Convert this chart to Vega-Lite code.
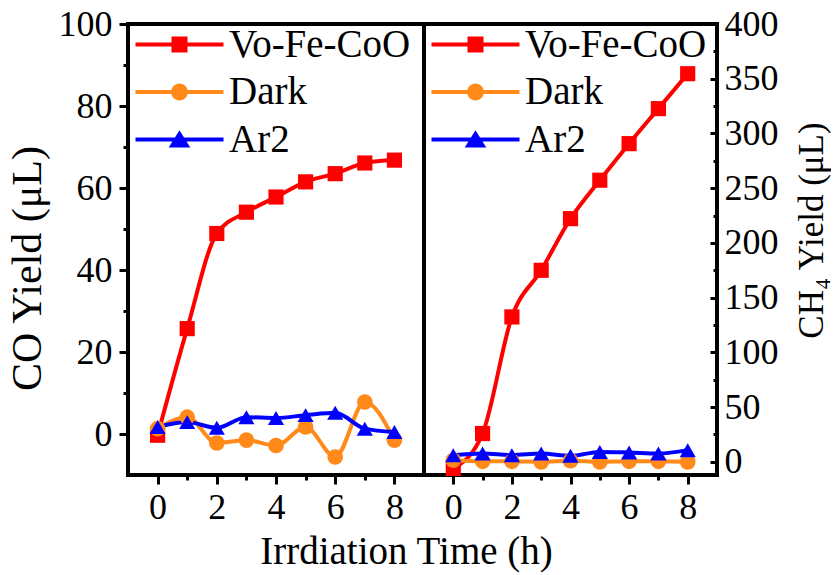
{
  "$schema": "https://vega.github.io/schema/vega-lite/v6.json",
  "background": "white",
  "padding": {"left": 4, "top": 4, "right": 0, "bottom": 5},
  "datasets": {
    "d": [
      {"panel": "CO", "series": "Vo-Fe-CoO", "t": 0, "v": -0.3},
      {"panel": "CO", "series": "Vo-Fe-CoO", "t": 1, "v": 25.7},
      {"panel": "CO", "series": "Vo-Fe-CoO", "t": 2, "v": 48.9},
      {"panel": "CO", "series": "Vo-Fe-CoO", "t": 3, "v": 54.1},
      {"panel": "CO", "series": "Vo-Fe-CoO", "t": 4, "v": 57.8},
      {"panel": "CO", "series": "Vo-Fe-CoO", "t": 5, "v": 61.5},
      {"panel": "CO", "series": "Vo-Fe-CoO", "t": 6, "v": 63.5},
      {"panel": "CO", "series": "Vo-Fe-CoO", "t": 7, "v": 66.1},
      {"panel": "CO", "series": "Vo-Fe-CoO", "t": 8, "v": 66.8},
      {"panel": "CO", "series": "Dark", "t": 0, "v": 1.3},
      {"panel": "CO", "series": "Dark", "t": 1, "v": 4.1},
      {"panel": "CO", "series": "Dark", "t": 2, "v": -2.2},
      {"panel": "CO", "series": "Dark", "t": 3, "v": -1.5},
      {"panel": "CO", "series": "Dark", "t": 4, "v": -2.8},
      {"panel": "CO", "series": "Dark", "t": 5, "v": 1.7},
      {"panel": "CO", "series": "Dark", "t": 6, "v": -5.6},
      {"panel": "CO", "series": "Dark", "t": 7, "v": 7.8},
      {"panel": "CO", "series": "Dark", "t": 8, "v": -1.5},
      {"panel": "CO", "series": "Ar2", "t": 0, "v": 1.7},
      {"panel": "CO", "series": "Ar2", "t": 1, "v": 2.9},
      {"panel": "CO", "series": "Ar2", "t": 2, "v": 1.5},
      {"panel": "CO", "series": "Ar2", "t": 3, "v": 4.1},
      {"panel": "CO", "series": "Ar2", "t": 4, "v": 3.9},
      {"panel": "CO", "series": "Ar2", "t": 5, "v": 4.6},
      {"panel": "CO", "series": "Ar2", "t": 6, "v": 5.2},
      {"panel": "CO", "series": "Ar2", "t": 7, "v": 1.3},
      {"panel": "CO", "series": "Ar2", "t": 8, "v": 0.5},
      {"panel": "CH4", "series": "Vo-Fe-CoO", "t": 0, "v": -6},
      {"panel": "CH4", "series": "Vo-Fe-CoO", "t": 1, "v": 25.9},
      {"panel": "CH4", "series": "Vo-Fe-CoO", "t": 2, "v": 132.4},
      {"panel": "CH4", "series": "Vo-Fe-CoO", "t": 3, "v": 175},
      {"panel": "CH4", "series": "Vo-Fe-CoO", "t": 4, "v": 222.2},
      {"panel": "CH4", "series": "Vo-Fe-CoO", "t": 5, "v": 257.3},
      {"panel": "CH4", "series": "Vo-Fe-CoO", "t": 6, "v": 290.7},
      {"panel": "CH4", "series": "Vo-Fe-CoO", "t": 7, "v": 322.7},
      {"panel": "CH4", "series": "Vo-Fe-CoO", "t": 8, "v": 354.6},
      {"panel": "CH4", "series": "Dark", "t": 0, "v": 1.5},
      {"panel": "CH4", "series": "Dark", "t": 1, "v": 0.5},
      {"panel": "CH4", "series": "Dark", "t": 2, "v": 0.5},
      {"panel": "CH4", "series": "Dark", "t": 3, "v": 0},
      {"panel": "CH4", "series": "Dark", "t": 4, "v": 1},
      {"panel": "CH4", "series": "Dark", "t": 5, "v": 0},
      {"panel": "CH4", "series": "Dark", "t": 6, "v": 0.5},
      {"panel": "CH4", "series": "Dark", "t": 7, "v": 0.5},
      {"panel": "CH4", "series": "Dark", "t": 8, "v": 0},
      {"panel": "CH4", "series": "Ar2", "t": 0, "v": 6.1},
      {"panel": "CH4", "series": "Ar2", "t": 1, "v": 7.6},
      {"panel": "CH4", "series": "Ar2", "t": 2, "v": 6.1},
      {"panel": "CH4", "series": "Ar2", "t": 3, "v": 7.6},
      {"panel": "CH4", "series": "Ar2", "t": 4, "v": 5.5},
      {"panel": "CH4", "series": "Ar2", "t": 5, "v": 9.1},
      {"panel": "CH4", "series": "Ar2", "t": 6, "v": 8.5},
      {"panel": "CH4", "series": "Ar2", "t": 7, "v": 7.6},
      {"panel": "CH4", "series": "Ar2", "t": 8, "v": 10.7}
    ]
  },
  "config": {
    "font": "Liberation Serif",
    "view": {"stroke": "black", "strokeWidth": 4},
    "axis": {
      "grid": false, "domain": false, "tickColor": "black", "tickWidth": 3,
      "labelColor": "black", "titleColor": "black",
      "labelFont": "Liberation Serif", "titleFont": "Liberation Serif",
      "labelFontSize": 36, "titleFontSize": 40, "titleFontWeight": "normal"
    }
  },
  "spacing": 0,
  "bounds": "flush",
  "resolve": {"legend": {"color": "independent"}},
  "hconcat": [
    {
      "width": 296, "height": 451,
      "data": {"name": "d"},
      "transform": [{"filter": "datum.panel === 'CO'"}],
      "layer": [
        {
          "encoding": {
            "x": {"field": "t", "type": "quantitative",
              "scale": {"domain": [-1, 9], "nice": false, "zero": false},
              "axis": {"values": [0, 2, 4, 6, 8], "tickSize": 9, "labelPadding": 6,
                "title": "Irrdiation Time (h)", "titleFontSize": 39, "titleX": 278, "titlePadding": 7}},
            "y": {"field": "v", "type": "quantitative",
              "scale": {"domain": [-10, 100], "nice": false, "zero": false},
              "axis": {"values": [0, 20, 40, 60, 80, 100], "tickSize": 9, "labelPadding": 7,
                "title": "CO Yield (μL)", "titleFontSize": 42, "titleY": 244, "titlePadding": 9}},
            "color": {"field": "series", "type": "nominal",
              "scale": {"domain": ["Vo-Fe-CoO", "Dark", "Ar2"], "range": ["#FF0000", "#FF8A1A", "#0000FF"]},
              "legend": {
                "title": null, "orient": "none", "legendX": 32, "legendY": 1,
                "symbolSize": 256, "labelFontSize": 39, "labelFont": "Liberation Serif",
                "labelColor": "black", "labelOffset": 30, "rowPadding": 7.5, "padding": 0,
                "labelLimit": 0,
                "encode": {"symbols": {"update": {
                  "shape": {"signal": "datum.value === 'Vo-Fe-CoO' ? 'M-5.5,-0.25H5.5V0.25H-5.5Z M-1,-1H1V1H-1Z' : datum.value === 'Dark' ? 'M-5.5,-0.25H5.5V0.25H-5.5Z M0,-1.05A1.05,1.05 0 1,1 0,1.05A1.05,1.05 0 1,1 0,-1.05Z' : 'M-5.5,-0.25H5.5V0.25H-5.5Z M0,-1.15L1.35,1L-1.35,1Z'"},
                  "fill": {"signal": "datum.value === 'Vo-Fe-CoO' ? '#FF0000' : datum.value === 'Dark' ? '#FF8A1A' : '#0000FF'"},
                  "opacity": {"value": 1},
                  "strokeWidth": {"value": 0}
                }}}
              }}
          },
          "layer": [
            {"mark": {"type": "line", "strokeWidth": 4, "interpolate": "monotone"}},
            {"mark": {"type": "point", "filled": true, "opacity": 1},
              "encoding": {
                "shape": {"field": "series", "type": "nominal",
                  "scale": {"domain": ["Vo-Fe-CoO", "Dark", "Ar2"], "range": ["square", "circle", "triangle-up"]}, "legend": null},
                "size": {"field": "series", "type": "nominal",
                  "scale": {"domain": ["Vo-Fe-CoO", "Dark", "Ar2"], "range": [230, 260, 380]}, "legend": null}
              }}
          ]
        },
        {
          "mark": {"type": "point", "opacity": 0},
          "encoding": {
            "x": {"field": "t", "type": "quantitative",
              "scale": {"domain": [-1, 9], "nice": false, "zero": false},
              "axis": {"values": [1, 3, 5, 7], "labels": false, "tickSize": 5, "title": null, "orient": "bottom"}},
            "y": {"field": "v", "type": "quantitative",
              "scale": {"domain": [-10, 100], "nice": false, "zero": false},
              "axis": {"values": [10, 30, 50, 70, 90], "labels": false, "tickSize": 5, "title": null, "orient": "left"}}
          }
        }
      ],
      "resolve": {"scale": {"x": "independent", "y": "independent"}}
    },
    {
      "width": 293, "height": 451,
      "data": {"name": "d"},
      "transform": [{"filter": "datum.panel === 'CH4'"}],
      "layer": [
        {
          "encoding": {
            "x": {"field": "t", "type": "quantitative",
              "scale": {"domain": [-1, 9], "nice": false, "zero": false},
              "axis": {"values": [0, 2, 4, 6, 8], "tickSize": 9, "labelPadding": 6, "title": null}},
            "y": {"field": "v", "type": "quantitative",
              "scale": {"domain": [-12, 400], "nice": false, "zero": false},
              "axis": {"orient": "right", "values": [0, 50, 100, 150, 200, 250, 300, 350, 400], "tickSize": -7, "labelPadding": 14,
                "title": "CH₄ Yield (μL)", "titleFontSize": 35, "titleAngle": 270, "titleBaseline": "top", "titleY": 206, "titlePadding": 16}},
            "color": {"field": "series", "type": "nominal",
              "scale": {"domain": ["Vo-Fe-CoO", "Dark", "Ar2"], "range": ["#FF0000", "#FF8A1A", "#0000FF"]},
              "legend": {
                "title": null, "orient": "none", "legendX": 32, "legendY": 1,
                "symbolSize": 256, "labelFontSize": 39, "labelFont": "Liberation Serif",
                "labelColor": "black", "labelOffset": 30, "rowPadding": 7.5, "padding": 0,
                "labelLimit": 0,
                "encode": {"symbols": {"update": {
                  "shape": {"signal": "datum.value === 'Vo-Fe-CoO' ? 'M-5.5,-0.25H5.5V0.25H-5.5Z M-1,-1H1V1H-1Z' : datum.value === 'Dark' ? 'M-5.5,-0.25H5.5V0.25H-5.5Z M0,-1.05A1.05,1.05 0 1,1 0,1.05A1.05,1.05 0 1,1 0,-1.05Z' : 'M-5.5,-0.25H5.5V0.25H-5.5Z M0,-1.15L1.35,1L-1.35,1Z'"},
                  "fill": {"signal": "datum.value === 'Vo-Fe-CoO' ? '#FF0000' : datum.value === 'Dark' ? '#FF8A1A' : '#0000FF'"},
                  "opacity": {"value": 1},
                  "strokeWidth": {"value": 0}
                }}}
              }}
          },
          "layer": [
            {"mark": {"type": "line", "strokeWidth": 4, "interpolate": "monotone"}},
            {"mark": {"type": "point", "filled": true, "opacity": 1},
              "encoding": {
                "shape": {"field": "series", "type": "nominal",
                  "scale": {"domain": ["Vo-Fe-CoO", "Dark", "Ar2"], "range": ["square", "circle", "triangle-up"]}, "legend": null},
                "size": {"field": "series", "type": "nominal",
                  "scale": {"domain": ["Vo-Fe-CoO", "Dark", "Ar2"], "range": [230, 260, 380]}, "legend": null}
              }}
          ]
        },
        {
          "mark": {"type": "point", "opacity": 0},
          "encoding": {
            "x": {"field": "t", "type": "quantitative",
              "scale": {"domain": [-1, 9], "nice": false, "zero": false},
              "axis": {"values": [1, 3, 5, 7], "labels": false, "tickSize": 5, "title": null, "orient": "bottom"}},
            "y": {"field": "v", "type": "quantitative",
              "scale": {"domain": [-12, 400], "nice": false, "zero": false},
              "axis": {"values": [25, 75, 125, 175, 225, 275, 325, 375], "labels": false, "tickSize": -4, "title": null, "orient": "right"}}
          }
        }
      ],
      "resolve": {"scale": {"x": "independent", "y": "independent"}}
    }
  ]
}
